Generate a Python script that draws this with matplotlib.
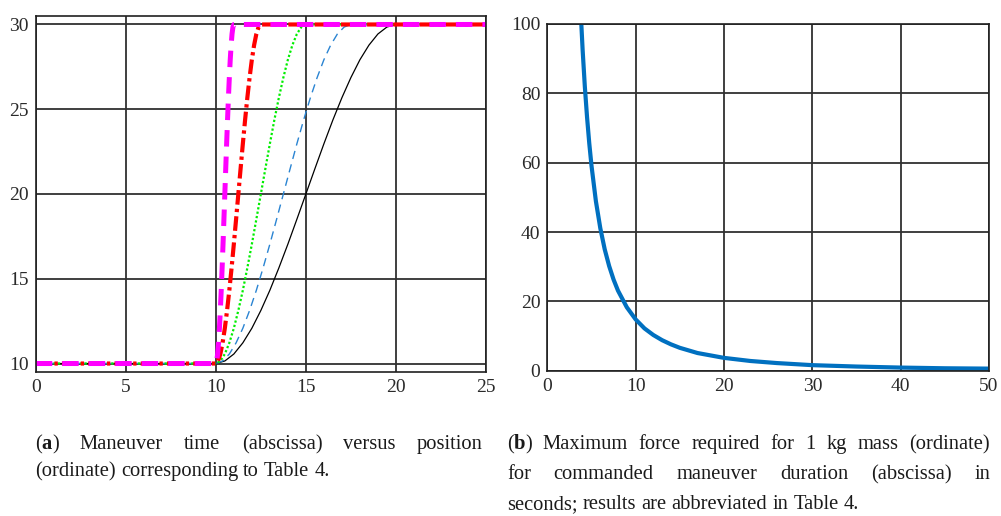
import numpy as np
import matplotlib
matplotlib.use('Agg')
from matplotlib import pyplot as plt

# (a) position versus time for five commanded maneuver durations
t_start = 10.0
t_end = [20.0, 17.5, 15.0, 12.5, 11.0]
t_max = 25.0
# position read along each rise, at equal steps of the rise time
rise = [10.0, 10.15, 10.56, 11.22, 12.08, 13.13, 14.32, 15.64, 17.04, 18.51, 20.0,
        21.49, 22.96, 24.37, 25.68, 26.87, 27.92, 28.78, 29.44, 29.85, 30.0]

# (b) maximum force for 1 kg versus maneuver duration
duration = [3.8, 4.0, 4.25, 4.5, 4.75, 5.0, 5.5, 6.0, 6.5, 7.0, 7.5, 8.0, 9.0, 10.0,
            11.0, 12.0, 13.0, 14.0, 15.0, 17.0, 20.0, 23.0, 26.0, 30.0, 35.0, 40.0,
            45.0, 50.0]
force = [102.5, 92.5, 81.9, 73.1, 65.6, 59.2, 48.9, 41.1, 35.0, 30.2, 26.3, 23.1,
         18.3, 14.8, 12.2, 10.3, 8.8, 7.6, 6.6, 5.1, 3.7, 2.8, 2.2, 1.6, 1.2, 0.9,
         0.7, 0.6]

xticks_a = [0, 5, 10, 15, 20, 25]
yticks_a = [10, 15, 20, 25, 30]
xticks_b = [0, 10, 20, 30, 40, 50]
yticks_b = [0, 20, 40, 60, 80, 100]

styles = [
    dict(color='black', lw=0.9, ls='-'),
    dict(color='#2a84d2', lw=1.0, dashes=(6, 4)),
    dict(color='#00ee00', lw=1.6, dashes=(1, 1)),
    dict(color='#ff0000', lw=3.0, dashes=(3.5, 1.0, 0.8, 1.0)),
    dict(color='#ff00ff', lw=3.6, dashes=(3.3, 2.0)),
]

plt.rcParams['font.family'] = ['Liberation Serif', 'DejaVu Serif']

W, H = 1001, 516
fig = plt.figure(figsize=(W / 100, H / 100), dpi=100)
fig.patch.set_facecolor('white')


def box(px0, py0, px1, py1):
    return [px0 / W, 1 - py1 / H, (px1 - px0) / W, (py1 - py0) / H]


def style_axes(ax):
    ax.grid(True, color='#303030', lw=1.3)
    for s in ax.spines.values():
        s.set_color('#202020')
        s.set_linewidth(1.2)
    ax.tick_params(length=0, pad=5, labelsize=14, colors='#2a2a2a')


ax1 = fig.add_axes(box(35.7, 16, 486, 372))
for te, st in zip(t_end, styles):
    tt = np.linspace(t_start, te, len(rise))
    t = np.concatenate([[0.0], tt, [t_max]])
    y = np.concatenate([[rise[0]], rise, [rise[-1]]])
    ax1.plot(t, y, **st)
ax1.set_xlim(0, 25)
ax1.set_ylim(9.5, 30.5)
ax1.set_xticks(xticks_a)
ax1.set_yticks(yticks_a)
style_axes(ax1)

ax2 = fig.add_axes(box(547.3, 24, 989, 370.7))
ax2.plot(duration, force, color='#0070c0', lw=3.0, solid_capstyle='butt')
ax2.set_xlim(0, 50)
ax2.set_ylim(0, 100)
ax2.set_xticks(xticks_b)
ax2.set_yticks(yticks_b)
style_axes(ax2)

# captions, justified like the source page
cap_size = 14.8
lines = [
    (35, 483, 449, True, [[('(', 'normal'), ('a', 'bold'), (')', 'normal')],
                          'Maneuver', 'time', '(abscissa)', 'versus', 'position']),
    (35, 483, 476, False, ['(ordinate)', 'corresponding', 'to', 'Table', '4.']),
    (507, 990, 449, True, [[('(', 'normal'), ('b', 'bold'), (')', 'normal')],
                           'Maximum', 'force', 'required', 'for', '1', 'kg', 'mass',
                           '(ordinate)']),
    (507, 990, 479, True, ['for', 'commanded', 'maneuver', 'duration', '(abscissa)',
                           'in']),
    (507, 990, 509, False, ['seconds;', 'results', 'are', 'abbreviated', 'in',
                            'Table', '4.']),
]

placed = []
for x0, x1, yb, justify, words in lines:
    items = []
    for w in words:
        pieces = [(w, 'normal')] if isinstance(w, str) else w
        objs = [fig.text(0, 1 - yb / H, p, fontsize=cap_size, fontweight=wt,
                         va='baseline', ha='left', color='#1a1a1a')
                for p, wt in pieces]
        items.append(objs)
    placed.append((x0, x1, justify, items))

fig.canvas.draw()
rend = fig.canvas.get_renderer()
space = 0.25 * cap_size * 100 / 72
for x0, x1, justify, items in placed:
    widths = [[o.get_window_extent(rend).width for o in objs] for objs in items]
    total = sum(sum(w) for w in widths)
    gap = (x1 - x0 - total) / (len(items) - 1) if justify else space
    x = x0
    for objs, ws in zip(items, widths):
        for o, w in zip(objs, ws):
            o.set_x(x / W)
            x += w
        x += gap

fig.savefig('out.png', dpi=100, facecolor='white')
